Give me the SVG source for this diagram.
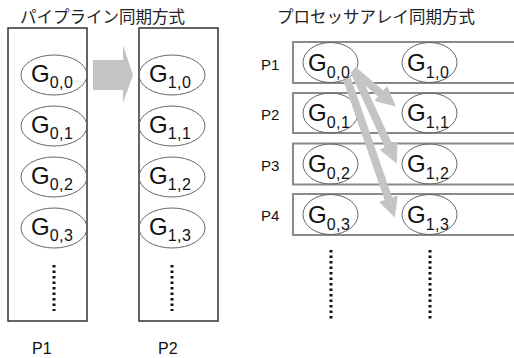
<svg xmlns="http://www.w3.org/2000/svg" width="514" height="358" viewBox="0 0 514 358">
<style>
.title{font-family:"Noto Sans CJK JP","Noto Sans",sans-serif;font-size:16.5px;fill:#222}
.lbl{font-family:"Liberation Sans",Arial,sans-serif;fill:#111}
.g{font-family:"Liberation Sans",Arial,sans-serif;font-size:24px;fill:#111}
.sub{font-size:16px;letter-spacing:0.5px}
.col{fill:#fff;stroke:#333;stroke-width:1.5}
.row{fill:#fff;stroke:#8a8a8a;stroke-width:2}
.ell{fill:none;stroke:#666;stroke-width:1}
.dots{stroke:#111;stroke-width:3;stroke-dasharray:2.5 3;fill:none}
.arr{stroke:#c4c4c4;stroke-width:8;fill:none;marker-end:url(#head)}
</style>
<defs>
<marker id="head" markerUnits="userSpaceOnUse" markerWidth="20" markerHeight="20" viewBox="0 0 20 20" refX="0.5" refY="10" orient="auto">
<path d="M0,0 L20,10 L0,20 Z" fill="#c4c4c4"/>
</marker>
</defs>
<rect width="514" height="358" fill="#fff"/>
<text class="title" x="20" y="23">パイプライン同期方式</text>
<text class="title" x="277" y="23">プロセッサアレイ同期方式</text>

<g id="pipe-P1">
<rect class="col" x="8" y="28" width="79" height="293"/>
<text class="lbl" x="32" y="354" font-size="16">P1</text>
<line class="dots" x1="54" y1="265" x2="54" y2="311"/>
</g>
<g id="pipe-P2">
<rect class="col" x="139" y="28" width="79" height="293"/>
<text class="lbl" x="158" y="354" font-size="16">P2</text>
<line class="dots" x1="172" y1="265" x2="172" y2="311"/>
</g>
<g id="pG00"><ellipse class="ell" cx="54" cy="75" rx="33" ry="20"/><text class="g" x="31" y="82">G<tspan class="sub" dy="6">0,0</tspan></text></g>
<g id="pG01"><ellipse class="ell" cx="54" cy="126" rx="33" ry="20"/><text class="g" x="31" y="133">G<tspan class="sub" dy="6">0,1</tspan></text></g>
<g id="pG02"><ellipse class="ell" cx="54" cy="177" rx="33" ry="20"/><text class="g" x="31" y="184">G<tspan class="sub" dy="6">0,2</tspan></text></g>
<g id="pG03"><ellipse class="ell" cx="54" cy="228" rx="33" ry="20"/><text class="g" x="31" y="235">G<tspan class="sub" dy="6">0,3</tspan></text></g>
<g id="pG10"><ellipse class="ell" cx="172" cy="75" rx="33" ry="20"/><text class="g" x="149" y="82">G<tspan class="sub" dy="6">1,0</tspan></text></g>
<g id="pG11"><ellipse class="ell" cx="172" cy="126" rx="33" ry="20"/><text class="g" x="149" y="133">G<tspan class="sub" dy="6">1,1</tspan></text></g>
<g id="pG12"><ellipse class="ell" cx="172" cy="177" rx="33" ry="20"/><text class="g" x="149" y="184">G<tspan class="sub" dy="6">1,2</tspan></text></g>
<g id="pG13"><ellipse class="ell" cx="172" cy="228" rx="33" ry="20"/><text class="g" x="149" y="235">G<tspan class="sub" dy="6">1,3</tspan></text></g>

<g id="row-P1"><rect class="row" x="293" y="42" width="240" height="41"/><text class="lbl" x="261" y="70" font-size="15">P1</text></g>
<g id="row-P2"><rect class="row" x="293" y="93" width="240" height="40"/><text class="lbl" x="261" y="120" font-size="15">P2</text></g>
<g id="row-P3"><rect class="row" x="293" y="143.5" width="240" height="41"/><text class="lbl" x="261" y="171" font-size="15">P3</text></g>
<g id="row-P4"><rect class="row" x="293" y="194" width="240" height="41"/><text class="lbl" x="261" y="221" font-size="15">P4</text></g>
<g id="aG00"><ellipse class="ell" cx="330.5" cy="62.5" rx="27.5" ry="20"/><text class="g" x="308" y="70.5">G<tspan class="sub" dy="7">0,0</tspan></text></g>
<g id="aG01"><ellipse class="ell" cx="330.5" cy="113" rx="27.5" ry="20"/><text class="g" x="308" y="121">G<tspan class="sub" dy="7">0,1</tspan></text></g>
<g id="aG02"><ellipse class="ell" cx="330.5" cy="164" rx="27.5" ry="20"/><text class="g" x="308" y="172">G<tspan class="sub" dy="7">0,2</tspan></text></g>
<g id="aG03"><ellipse class="ell" cx="330.5" cy="214.5" rx="27.5" ry="20"/><text class="g" x="308" y="222.5">G<tspan class="sub" dy="7">0,3</tspan></text></g>
<g id="aG10"><ellipse class="ell" cx="429.5" cy="62.5" rx="27.5" ry="20"/><text class="g" x="407" y="70.5">G<tspan class="sub" dy="7">1,0</tspan></text></g>
<g id="aG11"><ellipse class="ell" cx="429.5" cy="113" rx="27.5" ry="20"/><text class="g" x="407" y="121">G<tspan class="sub" dy="7">1,1</tspan></text></g>
<g id="aG12"><ellipse class="ell" cx="429.5" cy="164" rx="27.5" ry="20"/><text class="g" x="407" y="172">G<tspan class="sub" dy="7">1,2</tspan></text></g>
<g id="aG13"><ellipse class="ell" cx="429.5" cy="214.5" rx="27.5" ry="20"/><text class="g" x="407" y="222.5">G<tspan class="sub" dy="7">1,3</tspan></text></g>
<line class="dots" x1="331" y1="250" x2="331" y2="321"/>
<line class="dots" x1="430" y1="250" x2="430" y2="321"/>

<g id="connectors">
<polygon points="93,60 123,60 123,45 133,75 123,103 123,90 93,90" fill="#c4c4c4"/>
<line class="arr" x1="353" y1="70" x2="381" y2="93.8"/>
<line class="arr" x1="355" y1="73" x2="388.6" y2="145.8"/>
<line class="arr" x1="347" y1="79" x2="388.5" y2="199.1"/>
</g>
</svg>
